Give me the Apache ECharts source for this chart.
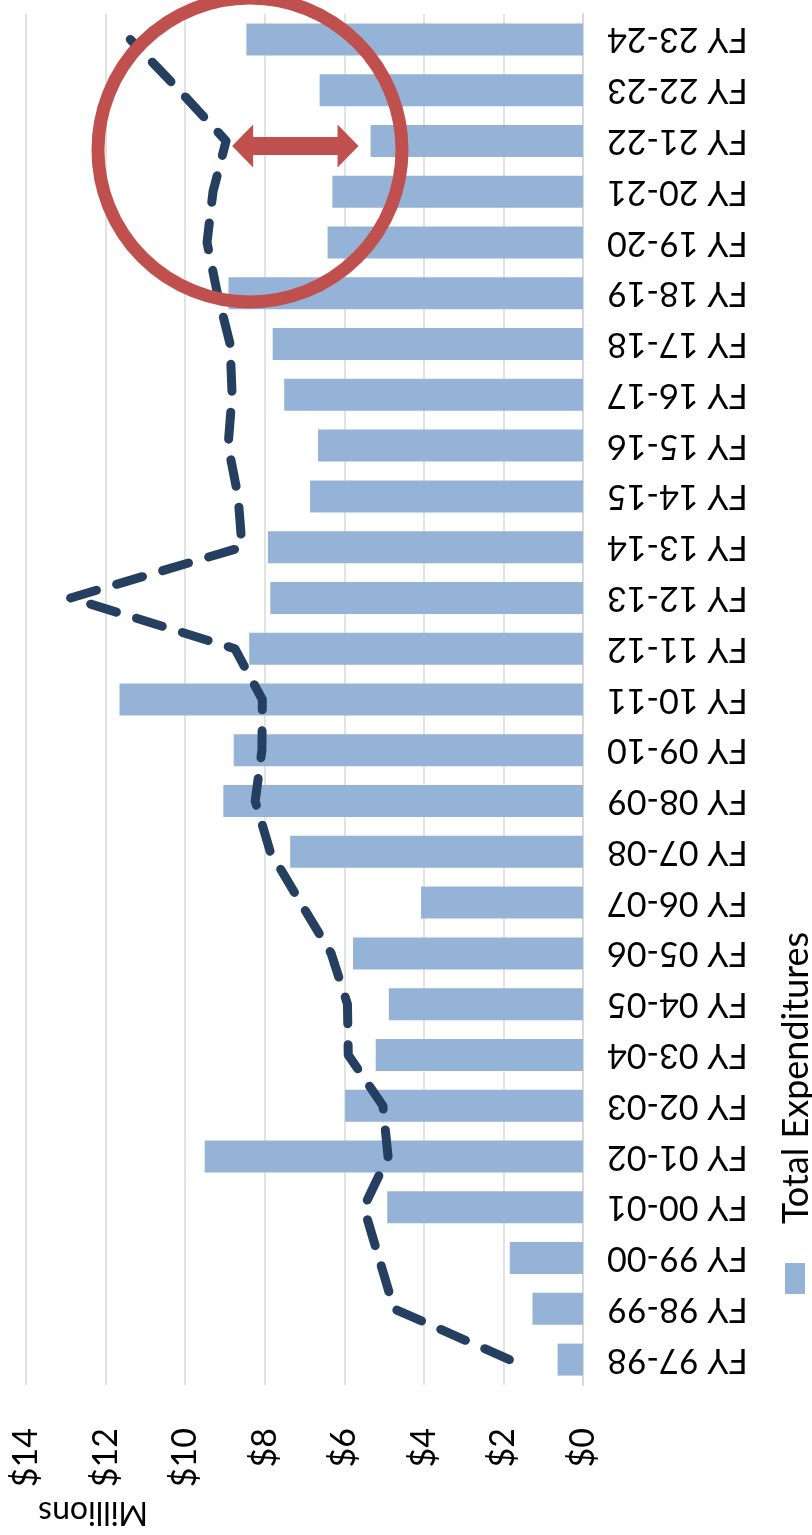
<!DOCTYPE html>
<html>
<head>
<meta charset="utf-8">
<script src="https://cdn.jsdelivr.net/npm/echarts@6/dist/echarts.min.js"></script>
<style>
html,body{margin:0;padding:0;background:#ffffff;}
#chart{width:812px;height:1535px;}
</style>
</head>
<body>
<div id="chart"></div>
<script>
const categories = ['FY 97-98','FY 98-99','FY 99-00','FY 00-01','FY 01-02','FY 02-03','FY 03-04','FY 04-05','FY 05-06','FY 06-07','FY 07-08','FY 08-09','FY 09-10','FY 10-11','FY 11-12','FY 12-13','FY 13-14','FY 14-15','FY 15-16','FY 16-17','FY 17-18','FY 18-19','FY 19-20','FY 20-21','FY 21-22','FY 22-23','FY 23-24'];
const totalExpenditures = [0.64,1.27,1.84,4.92,9.51,5.98,5.21,4.88,5.78,4.07,7.36,9.04,8.78,11.65,8.39,7.86,7.92,6.86,6.66,7.51,7.80,8.91,6.42,6.30,5.34,6.62,8.46];
const trendLine = [1.85,4.75,5.13,5.51,4.90,5.03,5.90,5.92,6.33,7.10,7.86,8.24,8.07,8.06,8.75,12.88,8.57,8.67,8.92,8.82,8.87,9.19,9.45,9.30,8.97,10.15,11.38];
const valueTicks = [0,2,4,6,8,10,12,14];
const legendLabel = 'Total Expenditures';
const unitLabel = 'Millions';
const highlightCategory = 'FY 21-22';

const FONT = 'Lato, "Open Sans", sans-serif';
const chart = echarts.init(document.getElementById('chart'));

chart.setOption({
  animation: false,
  backgroundColor: '#ffffff',
  grid: { left: 26, right: 229, top: 14, bottom: 150, containLabel: false },
  xAxis: {
    type: 'value',
    inverse: true,
    min: valueTicks[0],
    max: valueTicks[valueTicks.length - 1],
    interval: valueTicks[1] - valueTicks[0],
    position: 'bottom',
    axisLine: { show: false },
    axisTick: { show: false },
    splitLine: { show: true, lineStyle: { color: '#D9D9D9', width: 1.5 } },
    axisLabel: {
      rotate: 90,
      margin: 43,
      color: '#000000',
      fontSize: 34,
      fontFamily: FONT,
      formatter: v => '$' + v
    }
  },
  yAxis: {
    type: 'category',
    position: 'right',
    data: categories,
    axisLine: { show: true, lineStyle: { color: '#D9D9D9', width: 2 } },
    axisTick: { show: false },
    splitLine: { show: false },
    axisLabel: {
      rotate: 180,
      margin: 24,
      color: '#000000',
      fontSize: 34,
      fontFamily: FONT,
      interval: 0
    }
  },
  series: [
    {
      name: legendLabel,
      type: 'bar',
      data: totalExpenditures,
      barWidth: 32,
      itemStyle: { color: '#95B3D7' },
      z: 2
    },
    {
      name: 'Trend',
      type: 'line',
      data: trendLine,
      symbol: 'none',
      lineStyle: { color: '#243F60', width: 9, type: [27, 21], cap: 'round', join: 'round' },
      z: 3
    }
  ]
});

function px(val, cat) {
  return chart.convertToPixel({ gridIndex: 0 }, [val, cat]);
}

const idx = categories.indexOf(highlightCategory);
const linePt = px(trendLine[idx], highlightCategory);
const barPt = px(totalExpenditures[idx], highlightCategory);
const circleC = px(8.37, highlightCategory);

const ay = linePt[1] + 5;
const x1 = linePt[0] + 6;
const x2 = barPt[0] - 12;
const headL = 21, headH = 21.5, shaftH = 9;
const arrowPts = [
  [x1, ay],
  [x1 + headL, ay - headH],
  [x1 + headL, ay - shaftH],
  [x2 - headL, ay - shaftH],
  [x2 - headL, ay - headH],
  [x2, ay],
  [x2 - headL, ay + headH],
  [x2 - headL, ay + shaftH],
  [x1 + headL, ay + shaftH],
  [x1 + headL, ay + headH]
];

chart.setOption({
  graphic: [
    {
      type: 'circle',
      shape: { cx: circleC[0], cy: circleC[1] + 9, r: 152 },
      style: { fill: 'none', stroke: '#C0504D', lineWidth: 13 },
      z: 100
    },
    {
      type: 'polygon',
      shape: { points: arrowPts },
      style: { fill: '#C0504D' },
      z: 100
    },
    {
      type: 'rect',
      shape: { x: 785, y: 1263, width: 20, height: 31 },
      style: { fill: '#95B3D7' },
      z: 100
    },
    {
      type: 'text',
      x: 796,
      y: 1224,
      rotation: Math.PI / 2,
      style: {
        text: legendLabel,
        fontSize: 36,
        fontFamily: FONT,
        fill: '#000000',
        align: 'left',
        verticalAlign: 'middle',
        textAlign: 'left',
        textVerticalAlign: 'middle'
      },
      z: 100
    },
    {
      type: 'text',
      x: 148,
      y: 1512,
      rotation: Math.PI,
      style: {
        text: unitLabel,
        fontSize: 32,
        fontFamily: FONT,
        fill: '#000000',
        align: 'left',
        verticalAlign: 'middle',
        textAlign: 'left',
        textVerticalAlign: 'middle'
      },
      z: 100
    }
  ]
});
</script>
</body>
</html>
